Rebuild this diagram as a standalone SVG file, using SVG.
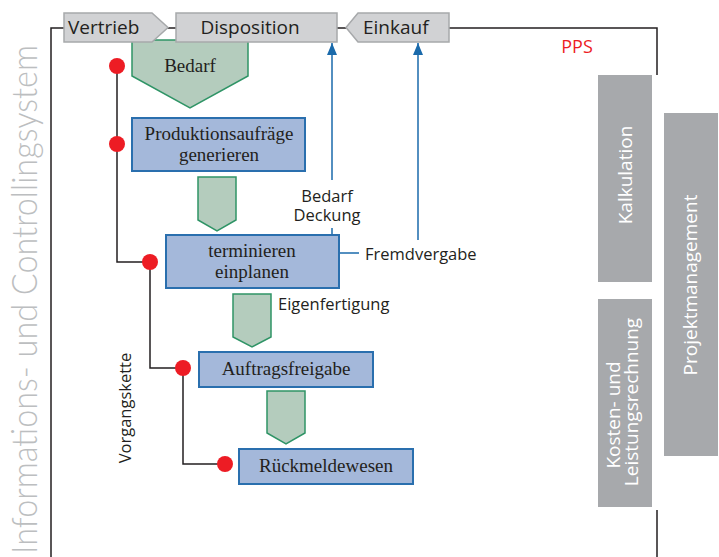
<svg xmlns="http://www.w3.org/2000/svg" width="719" height="557" viewBox="0 0 719 557">
<defs>
<style>
.frame{fill:none;stroke:#231f20;stroke-width:1.5}
.tab{fill:#d1d2d4;stroke:#a7a9ab;stroke-width:1.5}
.tabt{font-family:"Open Sans","Noto Sans",sans-serif;font-size:19px;fill:#231f20}
.proc{fill:#a4b8da;stroke:#2a6fae;stroke-width:2}
.proct{font-family:"Liberation Serif","DejaVu Serif",serif;font-size:19px;fill:#231f20;text-anchor:middle}
.flow{fill:#b4ccbd;stroke:#2f9466;stroke-width:1.5}
.chain{fill:none;stroke:#231f20;stroke-width:1.5}
.dot{fill:#ed1c24}
.blue{fill:none;stroke:#1a6aab;stroke-width:1.5}
.lbl{font-family:"Open Sans","Noto Sans",sans-serif;font-size:16.5px;fill:#231f20}
.side{fill:#a7a9ac}
.sidet{font-family:"Open Sans","Noto Sans",sans-serif;font-size:19px;fill:#ffffff;text-anchor:middle}
</style>
<marker id="ah" markerWidth="12" markerHeight="10" refX="12" refY="5" orient="auto" markerUnits="userSpaceOnUse" viewBox="0 0 12 10">
<path d="M0,0 L12,5 L0,10 Z" fill="#1a6aab"/>
</marker>
</defs>

<g id="frame">
<path class="frame" d="M51,557 V28 H657 V75 M657,510 V557"/>
</g>
<text id="ics" transform="translate(37,554) rotate(-90)" font-family="Lato,'Open Sans',sans-serif" font-weight="300" font-size="36" fill="#bcbec0" textLength="509" lengthAdjust="spacingAndGlyphs">Informations- und Controllingsystem</text>
<text id="pps" x="577" y="53" font-family="'Open Sans','Noto Sans',sans-serif" font-size="18" fill="#ed1c24" text-anchor="middle">PPS</text>

<g id="connectors">
<path class="chain" d="M117,66 V262 H150 V368 H183 V464 H225"/>
<path class="blue" d="M332,180 V43" marker-end="url(#ah)"/>
<path class="blue" d="M332,228 V240"/>
<path class="blue" d="M334,253 H359"/>
<path class="blue" d="M418,240 V43" marker-end="url(#ah)"/>
</g>

<g id="bedarf">
<path class="flow" d="M132,40 H248 V76 L190,108 L132,76 Z"/>
<text class="proct" x="190" y="72">Bedarf</text>
</g>

<g id="vertrieb">
<path class="tab" d="M64,13 H152 L168,27.5 L152,42 H64 Z"/>
<text class="tabt" x="68" y="34">Vertrieb</text>
</g>
<g id="disposition">
<rect class="tab" x="176" y="13" width="161" height="29"/>
<text class="tabt" x="250" y="34" text-anchor="middle">Disposition</text>
</g>
<g id="einkauf">
<path class="tab" d="M358,13 H449 V42 H358 L346,27.5 Z"/>
<text class="tabt" x="363" y="34">Einkauf</text>
</g>

<g id="dots">
<circle class="dot" cx="117" cy="66" r="8"/>
<circle class="dot" cx="117" cy="144" r="8"/>
<circle class="dot" cx="150" cy="262" r="8"/>
<circle class="dot" cx="183" cy="368" r="8"/>
<circle class="dot" cx="225" cy="464" r="8"/>
</g>

<g id="produktionsauftraege">
<rect class="proc" x="132" y="118" width="173" height="53"/>
<text class="proct" x="219" y="140">Produktionsaufräge<tspan x="219" y="161">generieren</tspan></text>
</g>
<g id="flow2"><path class="flow" d="M198,177 H236 V220 L217,231 L198,220 Z"/></g>

<g id="terminieren">
<rect class="proc" x="166" y="235" width="173" height="53"/>
<text class="proct" x="252" y="257">terminieren<tspan x="252" y="278">einplanen</tspan></text>
</g>
<g id="flow3"><path class="flow" d="M233,294 H271 V337 L252,347 L233,337 Z"/></g>

<g id="auftragsfreigabe">
<rect class="proc" x="199" y="352" width="174" height="35"/>
<text class="proct" x="286" y="375">Auftragsfreigabe</text>
</g>
<g id="flow4"><path class="flow" d="M267,391 H305 V433 L286,444 L267,433 Z"/></g>

<g id="rueckmeldewesen">
<rect class="proc" x="239" y="449" width="174" height="35"/>
<text class="proct" x="326" y="472">Rückmeldewesen</text>
</g>

<text class="lbl" x="327" y="202" text-anchor="middle">Bedarf<tspan x="327" y="221">Deckung</tspan></text>
<text class="lbl" x="365" y="260">Fremdvergabe</text>
<text class="lbl" x="278" y="310">Eigenfertigung</text>
<text class="lbl" transform="translate(131,408) rotate(-90)" text-anchor="middle">Vorgangskette</text>

<g id="kalkulation">
<rect class="side" x="598" y="75" width="54" height="207"/>
<text class="sidet" transform="translate(632,175) rotate(-90)">Kalkulation</text>
</g>
<g id="kosten">
<rect class="side" x="598" y="299" width="54" height="208"/>
<text class="sidet" transform="rotate(-90)" x="-415" y="620">Kosten- und<tspan x="-402" y="638">Leistungsrechnung</tspan></text>
</g>
<g id="projektmanagement">
<rect class="side" x="664" y="113" width="54" height="343"/>
<text class="sidet" transform="translate(697,285) rotate(-90)">Projektmanagement</text>
</g>
</svg>
